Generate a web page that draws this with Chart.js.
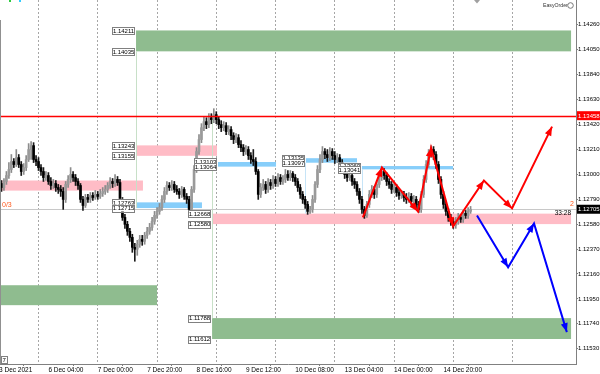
<!DOCTYPE html>
<html>
<head>
<meta charset="utf-8">
<script src="https://cdn.jsdelivr.net/npm/chart.js@4.4.1/dist/chart.umd.min.js"></script>
<style>
  html, body { margin: 0; padding: 0; background: #fff; }
  canvas { display: block; }
</style>
</head>
<body>
<canvas id="chart" width="600" height="374"></canvas>
<script>
// EURUSD H1, bar index 0 = 3 Dec 2021 08:00
const opens = [
  1.12905,1.12922,1.12888,1.12939,1.12989,1.13040,1.13107,1.13082,1.13140,1.13082,
  1.13023,1.13056,1.13124,1.13208,1.13241,1.13124,1.13107,1.13056,1.13023,1.12972,
  1.12989,1.12939,1.12905,1.12922,1.12888,1.12872,1.12855,1.12788,1.12914,1.12956,
  1.12998,1.12972,1.12939,1.12905,1.12788,1.12737,1.12804,1.12788,1.12821,1.12804,
  1.12830,1.12813,1.12838,1.12855,1.12872,1.12905,1.12939,1.12922,1.12956,1.12930,
  1.12788,1.12636,1.12578,1.12519,1.12468,1.12384,1.12368,1.12410,1.12452,1.12435,
  1.12485,1.12519,1.12552,1.12603,1.12653,1.12687,1.12720,1.12788,1.12855,1.12905,
  1.12888,1.12914,1.12872,1.12855,1.12830,1.12872,1.12813,1.12788,1.12704,1.12872,
  1.13040,1.13191,1.13292,1.13392,1.13443,1.13418,1.13476,1.13460,1.13502,1.13460,
  1.13418,1.13392,1.13409,1.13359,1.13376,1.13325,1.13292,1.13308,1.13250,1.13224,
  1.13191,1.13208,1.13157,1.13124,1.13107,1.13023,1.12830,1.12888,1.12914,1.12872,
  1.12930,1.12905,1.12956,1.12922,1.12972,1.12939,1.12956,1.12998,1.12972,1.13006,
  1.12972,1.12939,1.12888,1.12830,1.12788,1.12746,1.12687,1.12704,1.12788,1.12914,
  1.13040,1.13124,1.13191,1.13166,1.13140,1.13191,1.13157,1.13124,1.13140,1.13098,
  1.13056,1.12998,1.12972,1.12989,1.12939,1.12914,1.12855,1.12788,1.12704,1.12653,
  1.12746,1.12830,1.12872,1.12830,1.12914,1.12972,1.13023,1.12989,1.12939,1.12914,
  1.12872,1.12888,1.12846,1.12821,1.12830,1.12804,1.12788,1.12813,1.12771,1.12788,
  1.12746,1.12704,1.12830,1.12956,1.13082,1.13166,1.13208,1.13166,1.13082,1.12956,
  1.12830,1.12746,1.12687,1.12636,1.12603,1.12569,1.12603,1.12636,1.12620,1.12670,
  1.12653,1.12687
];
const highs = [
  1.12972,1.12947,1.12964,1.13023,1.13098,1.13166,1.13132,1.13208,1.13166,1.13107,
  1.13090,1.13157,1.13258,1.13275,1.13266,1.13157,1.13140,1.13082,1.13056,1.13023,
  1.13014,1.12972,1.12956,1.12947,1.12914,1.12905,1.12888,1.12939,1.12989,1.13056,
  1.13023,1.12998,1.12964,1.12922,1.12813,1.12830,1.12830,1.12846,1.12846,1.12863,
  1.12855,1.12872,1.12888,1.12905,1.12930,1.12972,1.12964,1.12998,1.12981,1.12956,
  1.12804,1.12662,1.12603,1.12544,1.12494,1.12418,1.12443,1.12485,1.12485,1.12510,
  1.12552,1.12586,1.12636,1.12687,1.12720,1.12754,1.12821,1.12888,1.12939,1.12930,
  1.12947,1.12939,1.12905,1.12880,1.12897,1.12888,1.12838,1.12813,1.12897,1.13073,
  1.13224,1.13334,1.13426,1.13485,1.13476,1.13510,1.13510,1.13552,1.13527,1.13485,
  1.13451,1.13443,1.13434,1.13409,1.13401,1.13350,1.13342,1.13334,1.13283,1.13250,
  1.13241,1.13233,1.13182,1.13208,1.13140,1.13040,1.12922,1.12956,1.12939,1.12964,
  1.12956,1.12989,1.12981,1.13006,1.12998,1.12989,1.13040,1.13031,1.13031,1.13023,
  1.12998,1.12964,1.12914,1.12855,1.12813,1.12771,1.12729,1.12821,1.12939,1.13073,
  1.13166,1.13233,1.13216,1.13208,1.13224,1.13216,1.13191,1.13174,1.13166,1.13124,
  1.13082,1.13023,1.13014,1.13006,1.12964,1.12939,1.12880,1.12813,1.12729,1.12771,
  1.12863,1.12905,1.12897,1.12947,1.13006,1.13056,1.13048,1.13014,1.12964,1.12939,
  1.12922,1.12914,1.12872,1.12863,1.12855,1.12838,1.12846,1.12838,1.12821,1.12813,
  1.12771,1.12855,1.12989,1.13115,1.13208,1.13241,1.13233,1.13191,1.13107,1.12981,
  1.12855,1.12771,1.12712,1.12662,1.12628,1.12636,1.12670,1.12662,1.12695,1.12695,
  1.12720,1.12729
];
const lows = [
  1.12821,1.12855,1.12863,1.12914,1.12964,1.13014,1.13056,1.13065,1.13056,1.12989,
  1.12998,1.13031,1.13107,1.13124,1.13098,1.13073,1.13031,1.12989,1.12939,1.12947,
  1.12914,1.12872,1.12880,1.12855,1.12838,1.12813,1.12704,1.12762,1.12888,1.12930,
  1.12939,1.12905,1.12872,1.12762,1.12695,1.12720,1.12762,1.12762,1.12779,1.12788,
  1.12788,1.12796,1.12813,1.12830,1.12846,1.12880,1.12888,1.12897,1.12905,1.12762,
  1.12611,1.12544,1.12485,1.12435,1.12342,1.12267,1.12317,1.12384,1.12401,1.12410,
  1.12460,1.12494,1.12527,1.12578,1.12628,1.12662,1.12695,1.12762,1.12830,1.12863,
  1.12863,1.12846,1.12830,1.12796,1.12804,1.12788,1.12754,1.12678,1.12687,1.12846,
  1.13014,1.13166,1.13266,1.13367,1.13384,1.13392,1.13426,1.13434,1.13426,1.13384,
  1.13359,1.13367,1.13334,1.13334,1.13292,1.13258,1.13266,1.13224,1.13191,1.13157,
  1.13166,1.13124,1.13090,1.13073,1.12998,1.12788,1.12804,1.12863,1.12838,1.12846,
  1.12872,1.12880,1.12897,1.12897,1.12914,1.12914,1.12930,1.12947,1.12947,1.12939,
  1.12905,1.12855,1.12796,1.12754,1.12712,1.12662,1.12670,1.12678,1.12762,1.12888,
  1.13014,1.13098,1.13132,1.13107,1.13115,1.13124,1.13090,1.13098,1.13065,1.13023,
  1.12964,1.12939,1.12947,1.12905,1.12880,1.12821,1.12754,1.12670,1.12628,1.12636,
  1.12720,1.12804,1.12796,1.12804,1.12888,1.12947,1.12956,1.12905,1.12880,1.12838,
  1.12846,1.12813,1.12788,1.12796,1.12771,1.12754,1.12762,1.12737,1.12746,1.12712,
  1.12678,1.12678,1.12804,1.12930,1.13056,1.13140,1.13124,1.13048,1.12922,1.12796,
  1.12712,1.12653,1.12603,1.12569,1.12544,1.12544,1.12578,1.12594,1.12594,1.12628,
  1.12628,1.12670
];
const closes = [
  1.12922,1.12888,1.12939,1.12989,1.13040,1.13107,1.13082,1.13140,1.13082,1.13023,
  1.13056,1.13124,1.13208,1.13241,1.13124,1.13107,1.13056,1.13023,1.12972,1.12989,
  1.12939,1.12905,1.12922,1.12888,1.12872,1.12855,1.12788,1.12914,1.12956,1.12998,
  1.12972,1.12939,1.12905,1.12788,1.12737,1.12804,1.12788,1.12821,1.12804,1.12830,
  1.12813,1.12838,1.12855,1.12872,1.12905,1.12939,1.12922,1.12956,1.12930,1.12788,
  1.12636,1.12578,1.12519,1.12468,1.12384,1.12368,1.12410,1.12452,1.12435,1.12485,
  1.12519,1.12552,1.12603,1.12653,1.12687,1.12720,1.12788,1.12855,1.12905,1.12888,
  1.12914,1.12872,1.12855,1.12830,1.12872,1.12813,1.12788,1.12704,1.12872,1.13040,
  1.13191,1.13292,1.13392,1.13443,1.13418,1.13476,1.13460,1.13502,1.13460,1.13418,
  1.13392,1.13409,1.13359,1.13376,1.13325,1.13292,1.13308,1.13250,1.13224,1.13191,
  1.13208,1.13157,1.13124,1.13107,1.13023,1.12830,1.12888,1.12914,1.12872,1.12930,
  1.12905,1.12956,1.12922,1.12972,1.12939,1.12956,1.12998,1.12972,1.13006,1.12972,
  1.12939,1.12888,1.12830,1.12788,1.12746,1.12687,1.12704,1.12788,1.12914,1.13040,
  1.13124,1.13191,1.13166,1.13140,1.13191,1.13157,1.13124,1.13140,1.13098,1.13056,
  1.12998,1.12972,1.12989,1.12939,1.12914,1.12855,1.12788,1.12704,1.12653,1.12746,
  1.12830,1.12872,1.12830,1.12914,1.12972,1.13023,1.12989,1.12939,1.12914,1.12872,
  1.12888,1.12846,1.12821,1.12830,1.12804,1.12788,1.12813,1.12771,1.12788,1.12746,
  1.12704,1.12830,1.12956,1.13082,1.13166,1.13208,1.13166,1.13082,1.12956,1.12830,
  1.12746,1.12687,1.12636,1.12603,1.12569,1.12603,1.12636,1.12620,1.12670,1.12653,
  1.12687,1.12705
];

// axis
const timeTicks = [0, 20, 40, 60, 80, 100, 120, 140, 160, 180];
const timeLabels = ['3 Dec 2021', '6 Dec 04:00', '7 Dec 00:00', '7 Dec 20:00', '8 Dec 16:00',
  '9 Dec 12:00', '10 Dec 08:00', '13 Dec 04:00', '14 Dec 00:00', '14 Dec 20:00'];
const daySeparators = [16, 40, 64, 88, 112, 136, 160, 184, 208];
const priceTicks = [1.14260, 1.14050, 1.13840, 1.13630, 1.13420, 1.13210, 1.13000,
  1.12790, 1.12580, 1.12370, 1.12160, 1.11950, 1.11740, 1.11530];

// zones: [from bar, to bar, upper price, lower price, has labels]
const greenZones = [[55.5, 231.7, 1.14211, 1.14035, true], [-2, 64.0, 1.12065, 1.11897, false], [86.3, 231.7, 1.11788, 1.11612, true]];
const pinkZones = [[-2, 58.3, 1.12947, 1.12862, false], [55.5, 88.3, 1.13243, 1.13155, true], [86.3, 231.7, 1.12668, 1.12580, true]];
const blueZones = [[55.5, 82.2, 1.12763, 1.12715, true], [88.7, 112.2, 1.13103, 1.13064, true], [124.3, 145.0, 1.13135, 1.13097, true], [147.0, 183.9, 1.13069, 1.13041, true]];
const connectors = [[55.5, 1.14035, 1.12715], [86.3, 1.13493, 1.11788], [124.0, 1.13097, 1.12668], [147.0, 1.13041, 1.12668]];

// forecast paths
const redTimes = [147.4, 155.1, 169.7, 175.0, 183.9, 196.4, 207.8, 224.0];
const redPrices = [1.12636, 1.13056, 1.12687, 1.13224, 1.12561, 1.12947, 1.12712, 1.13401];
const blueTimes = [193.6, 206.2, 216.7, 230.0];
const bluePrices = [1.12653, 1.12216, 1.12586, 1.11670];

const redLevel = 1.13493;
const redLevelLabel = '1.13458';
const bidLevel = 1.12705;

const FONT = 'Liberation Sans, Arial, sans-serif';

const bull = '#9a9a9a', bear = '#000000';
const bodyColors = opens.map((o, i) => closes[i] >= o ? bull : bear);
const wickColors = opens.map((o, i) => closes[i] >= o ? '#8c8c8c' : '#1a1a1a');

function tag(ctx, xRight, y, text) {
  ctx.fillStyle = '#fff';
  ctx.fillRect(xRight - 23, y - 3.5, 23, 7);
  ctx.strokeStyle = '#808080';
  ctx.lineWidth = 1;
  ctx.strokeRect(Math.round(xRight - 23) + 0.5, Math.round(y - 3.5) + 0.5, 22, 7);
  ctx.fillStyle = '#000';
  ctx.font = '6px ' + FONT;
  ctx.textAlign = 'center';
  ctx.textBaseline = 'middle';
  ctx.fillText(text, xRight - 11.5, y + 0.5);
}

const overlay = {
  id: 'overlay',
  beforeDatasetsDraw(chart) {
    const { ctx, chartArea: a, scales: { x, y } } = chart;
    ctx.save();
    ctx.beginPath();
    ctx.rect(a.left, a.top, a.width, a.height);
    ctx.clip();
    [[greenZones, '#8fbc8f'], [pinkZones, '#ffbcc6'], [blueZones, '#87cefa']].forEach(([list, color]) => {
      ctx.fillStyle = color;
      list.forEach(z => {
        const x0 = x.getPixelForValue(z[0]), x1 = x.getPixelForValue(z[1]);
        const y0 = y.getPixelForValue(z[2]), y1 = y.getPixelForValue(z[3]);
        ctx.fillRect(x0, y0, x1 - x0, y1 - y0);
      });
    });
    ctx.lineWidth = 1;
    connectors.forEach(c => {
      const px = Math.round(x.getPixelForValue(c[0])) + 0.5;
      ctx.strokeStyle = c[0] > 120 ? '#c6e4f7' : '#c8e0c8';
      ctx.beginPath();
      ctx.moveTo(px, y.getPixelForValue(c[1]));
      ctx.lineTo(px, y.getPixelForValue(c[2]));
      ctx.stroke();
    });
    const by = Math.round(y.getPixelForValue(bidLevel)) + 0.5;
    ctx.strokeStyle = '#c8c8c8';
    ctx.beginPath();
    ctx.moveTo(a.left, by);
    ctx.lineTo(a.right, by);
    ctx.stroke();
    ctx.restore();
  },
  afterDatasetsDraw(chart) {
    const { ctx, chartArea: a, scales: { x, y } } = chart;
    ctx.save();
    // arrow heads on each leg of the paths
    [0, 1].forEach(di => {
      const pts = chart.getDatasetMeta(di).data;
      ctx.fillStyle = chart.data.datasets[di].borderColor;
      for (let k = 1; k < pts.length; k++) {
        const p0 = pts[k - 1], p1 = pts[k];
        const ang = Math.atan2(p1.y - p0.y, p1.x - p0.x);
        ctx.save();
        ctx.translate(p1.x, p1.y);
        ctx.rotate(ang);
        ctx.beginPath();
        ctx.moveTo(0, 0);
        ctx.lineTo(-9, -3.5);
        ctx.lineTo(-9, 3.5);
        ctx.closePath();
        ctx.fill();
        ctx.restore();
      }
    });
    // resistance line
    const ry = Math.round(y.getPixelForValue(redLevel)) + 0.5;
    ctx.strokeStyle = '#ff0000';
    ctx.lineWidth = 1.5;
    ctx.beginPath();
    ctx.moveTo(a.left, ry);
    ctx.lineTo(a.right, ry);
    ctx.stroke();
    // zone price tags
    [greenZones, pinkZones, blueZones].forEach(list => list.forEach(z => {
      if (!z[4]) return;
      const xr = x.getPixelForValue(z[0]) - 1;
      tag(ctx, xr, y.getPixelForValue(z[2]), z[2].toFixed(5));
      tag(ctx, xr, y.getPixelForValue(z[3]), z[3].toFixed(5));
    }));
    ctx.restore();
  },
  afterDraw(chart) {
    const { ctx, chartArea: a, scales: { y } } = chart;
    ctx.save();
    // left border
    ctx.strokeStyle = '#909090';
    ctx.lineWidth = 1;
    ctx.beginPath();
    ctx.moveTo(0.5, 20);
    ctx.lineTo(0.5, a.bottom);
    ctx.stroke();
    ctx.font = '6px ' + FONT;
    ctx.textBaseline = 'middle';
    ctx.textAlign = 'left';
    // axis price boxes
    const ry = y.getPixelForValue(redLevel);
    ctx.fillStyle = '#ff0000';
    ctx.fillRect(a.right + 1, ry - 4.5, 24, 9);
    ctx.fillStyle = '#fff';
    ctx.fillText(redLevelLabel, a.right + 2, ry + 0.5);
    const by = y.getPixelForValue(bidLevel);
    ctx.fillStyle = '#000';
    ctx.fillRect(a.right + 1, by - 4.5, 24, 9);
    ctx.fillStyle = '#fff';
    ctx.fillText(bidLevel.toFixed(5), a.right + 2, by + 0.5);
    // texts
    ctx.fillStyle = '#333';
    ctx.font = '5.2px ' + FONT;
    ctx.fillText('EasyOrder', 543, 5.5);
    ctx.strokeStyle = '#777';
    ctx.beginPath();
    ctx.arc(570.5, 5.5, 2.8, 0, Math.PI * 2);
    ctx.stroke();
    ctx.fillStyle = '#ff5a1e';
    ctx.font = '7px ' + FONT;
    ctx.fillText('0/3', 2, 205.5);
    ctx.fillText('2', 570, 204);
    ctx.fillStyle = '#000';
    ctx.font = '6.5px ' + FONT;
    ctx.textAlign = 'right';
    ctx.fillText('33:28', 571, 213.5);
    // chart shift marker
    ctx.fillStyle = '#a0a0a0';
    ctx.beginPath();
    ctx.moveTo(474, 0);
    ctx.lineTo(480, 0);
    ctx.lineTo(477, 3.5);
    ctx.closePath();
    ctx.fill();
    // indicator dots
    ctx.fillStyle = '#2ecc40';
    ctx.fillRect(9, 0, 2, 2);
    ctx.fillStyle = '#33ccff';
    ctx.fillRect(19, 0, 2, 2);
    // window tab
    ctx.strokeStyle = '#808080';
    ctx.strokeRect(1.5, 356.5, 6, 7);
    ctx.fillStyle = '#000';
    ctx.textAlign = 'left';
    ctx.font = '6px ' + FONT;
    ctx.fillText('7', 2.5, 360.5);
    ctx.restore();
  }
};

const xMin = 0.4, xMax = 233.7;

new Chart(document.getElementById('chart'), {
  data: {
    datasets: [
      {
        type: 'line', label: 'up path', xAxisID: 'x', yAxisID: 'y',
        data: redTimes.map((t, i) => ({ x: t, y: redPrices[i] })),
        borderColor: '#ff0000', borderWidth: 2, pointRadius: 0, tension: 0
      },
      {
        type: 'line', label: 'down path', xAxisID: 'x', yAxisID: 'y',
        data: blueTimes.map((t, i) => ({ x: t, y: bluePrices[i] })),
        borderColor: '#0000ff', borderWidth: 2, pointRadius: 0, tension: 0
      },
      {
        type: 'bar', label: 'body', xAxisID: 'x', yAxisID: 'y',
        data: opens.map((o, i) => ({ x: i, y: [o, closes[i]] })),
        backgroundColor: bodyColors, borderWidth: 0, barThickness: 2,
        minBarLength: 1, grouped: false
      },
      {
        type: 'bar', label: 'wick', xAxisID: 'x', yAxisID: 'y',
        data: lows.map((l, i) => ({ x: i, y: [l, highs[i]] })),
        backgroundColor: wickColors, borderWidth: 0, barThickness: 1, grouped: false
      }
    ]
  },
  options: {
    responsive: false,
    animation: false,
    devicePixelRatio: 1,
    layout: { padding: 0 },
    plugins: { legend: { display: false }, tooltip: { enabled: false } },
    scales: {
      x: {
        type: 'linear', position: 'bottom', min: xMin, max: xMax, offset: false,
        afterBuildTicks: s => { s.ticks = timeTicks.map(v => ({ value: v })); },
        afterFit: s => { s.height = 10; s.paddingLeft = 0; s.paddingRight = 0; },
        ticks: {
          autoSkip: false, maxRotation: 0, align: 'start', padding: 0,
          color: '#000', font: { family: FONT, size: 6.5 },
          callback: v => timeLabels[timeTicks.indexOf(v)]
        },
        grid: { drawOnChartArea: false, drawTicks: true, tickLength: 2, color: '#808080' },
        border: { color: '#808080' }
      },
      days: {
        type: 'linear', position: 'bottom', min: xMin, max: xMax, offset: false,
        afterBuildTicks: s => { s.ticks = daySeparators.map(v => ({ value: v })); },
        afterFit: s => { s.height = 0; s.paddingLeft = 0; s.paddingRight = 0; },
        ticks: { display: false },
        grid: { drawOnChartArea: true, drawTicks: false, color: '#a6a6a6', lineWidth: 1 },
        border: { display: false, dash: [2, 2] }
      },
      y: {
        type: 'linear', position: 'right', min: 1.114015, max: 1.144675,
        afterBuildTicks: s => { s.ticks = priceTicks.map(v => ({ value: v })); },
        afterFit: s => { s.width = 24; s.paddingTop = 0; s.paddingBottom = 0; },
        ticks: {
          autoSkip: false, padding: 0, color: '#000',
          font: { family: FONT, size: 6 },
          callback: v => v.toFixed(5)
        },
        grid: { drawOnChartArea: false, drawTicks: true, tickLength: 2, color: '#808080' },
        border: { color: '#808080' }
      }
    }
  },
  plugins: [overlay]
});
</script>
</body>
</html>
